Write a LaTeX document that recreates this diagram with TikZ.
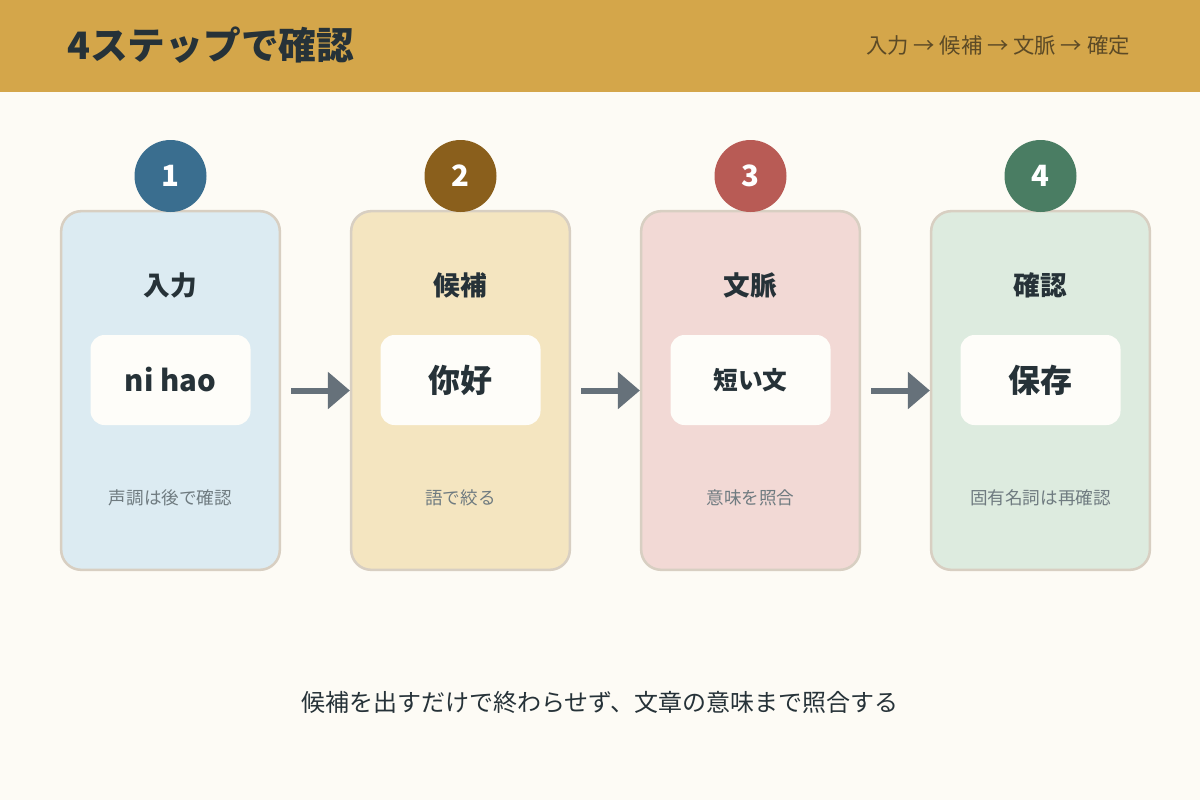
\documentclass[tikz,border=0pt]{standalone}
\usepackage{fontspec}
\setmainfont{Noto Sans CJK JP}
\usetikzlibrary{arrows.meta}
\definecolor{bg}{HTML}{FDFBF5}
\definecolor{band}{HTML}{D4A64A}
\definecolor{ink}{HTML}{263238}
\definecolor{sub}{HTML}{5C4A26}
\definecolor{cap}{HTML}{6F7B80}
\definecolor{edge}{HTML}{D8CFC2}
\definecolor{boxw}{HTML}{FEFDF9}
\definecolor{arr}{HTML}{66717A}
\definecolor{fa}{HTML}{DCEBF2}
\definecolor{fb}{HTML}{F4E5C0}
\definecolor{fc}{HTML}{F2D9D5}
\definecolor{fd}{HTML}{DDEBDF}
\definecolor{ca}{HTML}{3A6E8F}
\definecolor{cb}{HTML}{8A5F1C}
\definecolor{cc}{HTML}{B85B55}
\definecolor{cd}{HTML}{4A7D63}
\tikzset{
  card/.style={draw=edge, line width=1.9pt, rounded corners=15pt, minimum width=164pt, minimum height=269pt, inner sep=0pt},
  badge/.style={circle, minimum size=54pt, inner sep=0pt, text=white, font=\fontsize{22}{26}\selectfont\bfseries},
  ctitle/.style={text=ink, font=\fontsize{20}{24}\selectfont\bfseries, inner sep=0pt},
  inner/.style={fill=boxw, rounded corners=10.5pt, minimum width=120pt, minimum height=67.5pt, inner sep=0pt, text=ink},
  capt/.style={text=cap, font=\fontsize{13.2}{16}\selectfont, inner sep=0pt},
  flow/.style={draw=arr, line width=4.5pt, -{Triangle[length=16.5pt, width=27pt]}, shorten <=7.5pt},
}
\begin{document}
\begin{tikzpicture}[x=0.75pt, y=-0.75pt]
\fill[bg] (0,0) rectangle (1200,800);
\useasboundingbox (0,0) rectangle (1200,800);
\fill[band] (0,0) rectangle (1200,92);
\node[anchor=west, text=ink, font=\fontsize{28.3}{32}\selectfont\bfseries, inner sep=0pt] (title) at (67,45) {4ステップで確認};
\node[anchor=east, text=sub, font=\fontsize{16}{19}\selectfont, inner sep=0pt] (route) at (1130,45) {入力\ → 候補\ → 文脈\ → 確定};

\node[card, fill=fa] (c1) at (170.5,390.5) {};
\node[card, fill=fb] (c2) at (460.5,390.5) {};
\node[card, fill=fc] (c3) at (750.5,390.5) {};
\node[card, fill=fd] (c4) at (1040.5,390.5) {};

\node[badge, fill=ca] (b1) at (170.5,176) {1};
\node[badge, fill=cb] (b2) at (460.5,176) {2};
\node[badge, fill=cc] (b3) at (750.5,176) {3};
\node[badge, fill=cd] (b4) at (1040.5,176) {4};

\node[ctitle] (t1) at (170.5,285) {入力};
\node[ctitle] (t2) at (460.5,285) {候補};
\node[ctitle] (t3) at (750.5,285) {文脈};
\node[ctitle] (t4) at (1040.5,285) {確認};

\node[inner, font=\fontsize{22}{26}\selectfont\bfseries] (i1) at (170.5,380) {ni hao};
\node[inner, font=\fontsize{24}{28}\selectfont\bfseries] (i2) at (460.5,380) {你好};
\node[inner, font=\fontsize{18.5}{22}\selectfont\bfseries] (i3) at (750.5,380) {短い文};
\node[inner, font=\fontsize{24}{28}\selectfont\bfseries] (i4) at (1040.5,380) {保存};

\node[capt] (p1) at (170.5,498) {声調は後で確認};
\node[capt] (p2) at (460.5,498) {語で絞る};
\node[capt] (p3) at (750.5,498) {意味を照合};
\node[capt] (p4) at (1040.5,498) {固有名詞は再確認};

\draw[flow] (c1.east) -- (c2.west);
\draw[flow] (c2.east) -- (c3.west);
\draw[flow] (c3.east) -- (c4.west);

\node[text=ink, font=\fontsize{18}{22}\selectfont, inner sep=0pt] (foot) at (600,702) {候補を出すだけで終わらせず、文章の意味まで照合する};
\end{tikzpicture}
\end{document}
